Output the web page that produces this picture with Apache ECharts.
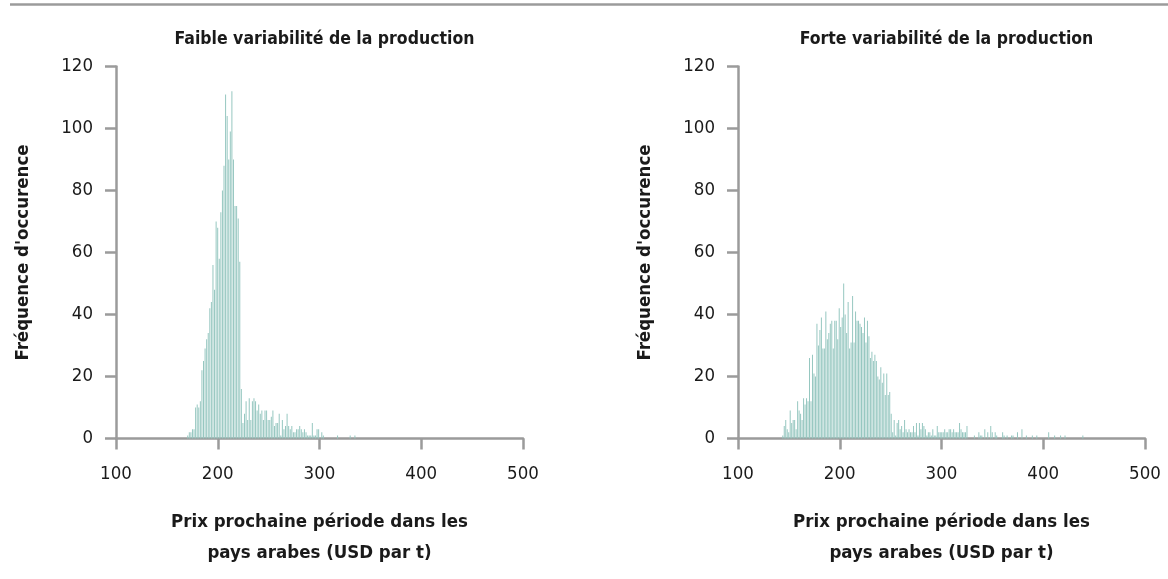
<html>
<head>
<meta charset="utf-8">
<title>Variabilité de la production</title>
<script src="https://cdn.jsdelivr.net/npm/echarts@6/dist/echarts.min.js"></script>
<style>
  html, body { margin: 0; padding: 0; background: #fff; }
  #chart { width: 1168px; height: 579px; }
</style>
</head>
<body>
<div id="chart"></div>
<script>
// histogrammes : nombre d'occurrences par classe de prix (USD par t)
var titles = ['Faible variabilité de la production', 'Forte variabilité de la production'];
var xName = 'Prix prochaine période dans les\npays arabes (USD par t)';
var yName = "Fréquence d'occurence";
var xTicks = [100, 200, 300, 400, 500];
var yTicks = [0, 20, 40, 60, 80, 100, 120];

// faible variabilité
var lowStart = 170.5;
var lowWidth = 1.55;
var lowCounts = [1,2,2,3,3,10,11,10,12,22,25,29,32,34,42,44,56,48,70,68,58,73,80,88,111,104,90,99,112,90,75,75,71,57,16,
  5,8,12,6,13,6,12,13,12,9,11,8,9,6,9,9,6,6,7,9,4,5,5,8,1,6,3,4,8,4,3,4,2,2,3,3,4,3,2,3,2,1,1,1,5,1,1,3,3,0,2,1,
  0,0,0,0,0,0,0,0,1,0,0,0,0,0,0,0,1,0,0,1];

// forte variabilité
var highStart = 144;
var highWidth = 1.46;
var highCounts = [1,4,6,3,2,9,5,6,6,3,12,9,8,6,13,11,13,12,26,12,27,21,20,37,30,35,39,29,29,41,32,34,37,38,29,38,38,32,42,36,39,50,40,34,44,29,31,46,31,41,38,38,
  37,36,34,39,31,38,33,26,28,25,27,25,20,19,23,18,21,14,21,14,15,8,2,6,1,5,6,3,4,2,6,3,2,3,2,2,4,2,5,1,5,3,5,4,3,1,2,2,1,3,1,1,4,2,
  2,2,2,3,2,2,3,3,2,3,2,2,2,5,3,2,2,2,4,
  0,0,0,0,1,0,0,2,1,1,0,3,0,2,0,4,2,0,2,1,0,0,0,2,1,0,1,0,0,1,1,0,0,2,0,0,3,0,0,1,0,0,0,1,0,0,1,
  0,0,0,0,0,0,0,2,0,0,0,1,0,0,0,1,0,0,1,0,0,0,0,0,0,0,0,0,0,0,1];

var barColor = '#96c7c0';
var axisColor = '#9b9b9b';
var textColor = '#1a1a1a';
var narrow = "'Liberation Sans Narrow', 'DejaVu Sans Condensed', 'Liberation Sans', sans-serif";

function toBars(start, width, counts) {
  return counts.map(function (c, i) { return [start + i * width, c]; });
}

var grids = [
  { left: 116, top: 66.5, width: 407, height: 372 },
  { left: 738, top: 66.5, width: 407, height: 372 }
];

function xAxis(i) {
  return {
    gridIndex: i, type: 'value', min: xTicks[0], max: xTicks[xTicks.length - 1], interval: 100,
    name: xName, nameLocation: 'middle', nameGap: 68,
    nameTextStyle: { fontFamily: narrow, fontWeight: 'bold', fontSize: 18.5, color: textColor, lineHeight: 31 },
    axisLine: { lineStyle: { color: axisColor, width: 2.5 } },
    axisTick: { length: 11, lineStyle: { color: axisColor, width: 2.5 } },
    axisLabel: { margin: 26, fontFamily: narrow, fontSize: 18.5, color: textColor },
    splitLine: { show: false }
  };
}

function yAxis(i) {
  return {
    gridIndex: i, type: 'value', min: yTicks[0], max: yTicks[yTicks.length - 1], interval: 20,
    name: yName, nameLocation: 'middle', nameGap: 83,
    nameTextStyle: { fontFamily: narrow, fontWeight: 'bold', fontSize: 18.5, color: textColor },
    axisLine: { show: true, lineStyle: { color: axisColor, width: 2.5 } },
    axisTick: { show: true, length: 11, lineStyle: { color: axisColor, width: 2.5 } },
    axisLabel: { margin: 23, fontFamily: narrow, fontSize: 18.5, color: textColor },
    splitLine: { show: false }
  };
}

var chart = echarts.init(document.getElementById('chart'));
chart.setOption({
  animation: false,
  backgroundColor: '#fff',
  title: titles.map(function (t, i) {
    return {
      text: t, left: grids[i].left + grids[i].width / 2, top: 25, textAlign: 'center',
      textStyle: { fontFamily: narrow, fontWeight: 'bold', fontSize: 17.5, color: textColor }
    };
  }),
  graphic: [{
    type: 'line', shape: { x1: 10, y1: 4.5, x2: 1168, y2: 4.5 },
    style: { stroke: axisColor, lineWidth: 2.5 }
  }],
  grid: grids,
  xAxis: [xAxis(0), xAxis(1)],
  yAxis: [yAxis(0), yAxis(1)],
  series: [
    { type: 'bar', xAxisIndex: 0, yAxisIndex: 0, barWidth: 1, itemStyle: { color: barColor },
      data: toBars(lowStart, lowWidth, lowCounts) },
    { type: 'bar', xAxisIndex: 1, yAxisIndex: 1, barWidth: 1, itemStyle: { color: barColor },
      data: toBars(highStart, highWidth, highCounts) }
  ]
});
</script>
</body>
</html>
